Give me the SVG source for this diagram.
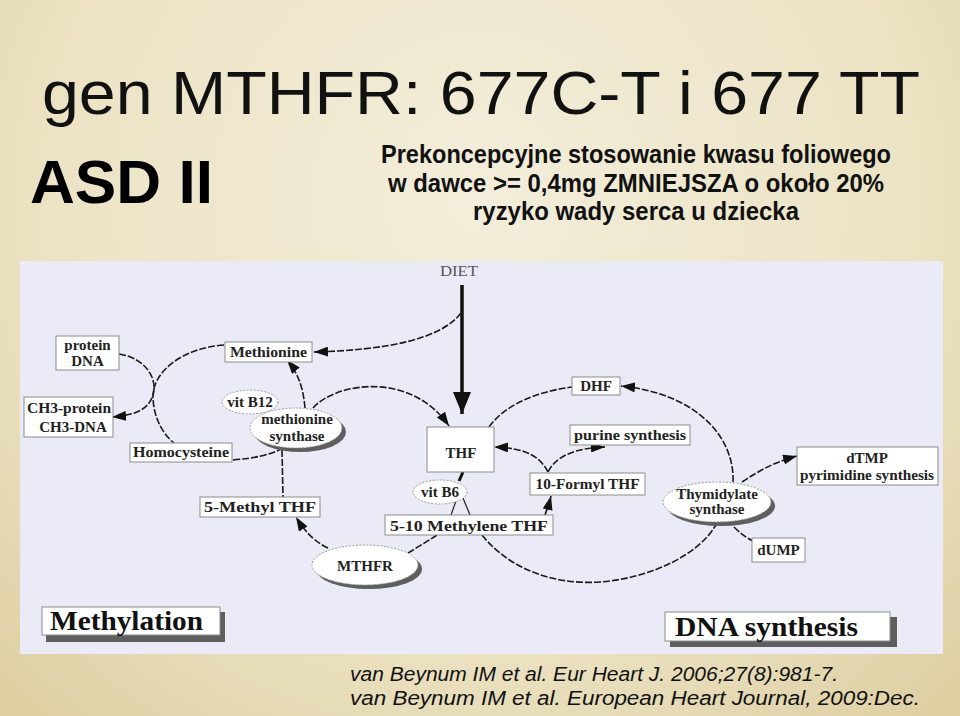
<svg xmlns="http://www.w3.org/2000/svg" width="960" height="716" viewBox="0 0 960 716">
<defs>
<radialGradient id="bg" cx="480" cy="200" r="720" gradientUnits="userSpaceOnUse">
<stop offset="0" stop-color="#f3eedb"/>
<stop offset="0.6" stop-color="#ece3c4"/>
<stop offset="1" stop-color="#dccd9e"/>
</radialGradient>
<marker id="ah" viewBox="0 0 14 10" refX="14" refY="5" markerWidth="14" markerHeight="10" markerUnits="userSpaceOnUse" orient="auto">
<path d="M0,0 L14,5 L0,10 Z" fill="#111"/>
</marker>
<marker id="ahBig" viewBox="0 0 22 18" refX="22" refY="9" markerWidth="22" markerHeight="18" markerUnits="userSpaceOnUse" orient="auto">
<path d="M0,0 L22,9 L0,18 Z" fill="#111"/>
</marker>
</defs>
<style>
.box{fill:#fff;stroke:#8c8c8c;stroke-width:1}
.ell{fill:#fff;stroke:#9a9a9a;stroke-width:1;stroke-dasharray:2 1.5}
.sh{fill:#5e5e5e}
.lbl{font-family:"Liberation Serif",serif;font-weight:bold;fill:#222;text-anchor:middle;font-size:15px}
.ln{fill:none;stroke:#1a1a1a;stroke-width:1.6;stroke-dasharray:7 2}
.big{font-family:"Liberation Serif",serif;font-weight:bold;fill:#111;font-size:27px}
.sub{font-family:"Liberation Sans",Arial,sans-serif;font-weight:bold;fill:#111;text-anchor:middle;font-size:25px}
.ref{font-family:"Liberation Sans",Arial,sans-serif;font-style:italic;fill:#111;font-size:20px}
</style>

<rect x="0" y="0" width="960" height="716" fill="url(#bg)"/>

<g id="title">
<text x="42" y="114" font-family="Liberation Sans, Arial, sans-serif" font-size="61" fill="#111" textLength="878" lengthAdjust="spacingAndGlyphs">gen MTHFR: 677C-T i 677 TT</text>
</g>
<g id="asd">
<text x="30" y="203" font-family="Liberation Sans, Arial, sans-serif" font-weight="bold" font-size="62" fill="#000" textLength="183" lengthAdjust="spacingAndGlyphs">ASD II</text>
</g>
<g id="subtitle">
<text class="sub" x="636" y="163" textLength="510" lengthAdjust="spacingAndGlyphs">Prekoncepcyjne stosowanie kwasu foliowego</text>
<text class="sub" x="636" y="192" textLength="496" lengthAdjust="spacingAndGlyphs">w dawce &gt;= 0,4mg ZMNIEJSZA o około 20%</text>
<text class="sub" x="636" y="220" textLength="326" lengthAdjust="spacingAndGlyphs">ryzyko wady serca u dziecka</text>
</g>

<rect id="panel" x="20" y="261" width="923" height="393" fill="#ebebf7"/>

<g id="connectors">
<path d="M462,285 L462,414" fill="none" stroke="#111" stroke-width="3.5" marker-end="url(#ahBig)"/>
<path class="ln" d="M461,313 C440,340 385,350 314,352" marker-end="url(#ah)"/>
<path class="ln" d="M224,345 C182,348 152,372 153,398 C154,420 164,435 174,443"/>
<path class="ln" d="M233,460 C255,458 270,455 283,448"/>
<path class="ln" d="M305,408 C303,385 297,372 287,360" marker-end="url(#ah)"/>
<path class="ln" d="M313,408 C335,383 410,370 449,426" marker-end="url(#ah)"/>
<path class="ln" d="M119,354 C145,358 158,378 153,395 C149,408 138,415 112,417" marker-end="url(#ah)"/>
<path class="ln" d="M282,450 L283,497"/>
<path class="ln" d="M328,548 C315,542 305,532 296,517" marker-end="url(#ah)"/>
<path class="ln" d="M437,535 C425,543 416,548 408,553"/>
<path d="M463,472 L459,481" fill="none" stroke="#111" stroke-width="3"/>
<path d="M457,498 L451,515 M463,498 L470,515" fill="none" stroke="#222" stroke-width="1.2"/>
<path class="ln" d="M545,515 C547,509 549,504 551,496" marker-end="url(#ah)"/>
<path class="ln" d="M548,472 C540,456 525,448 494,447" marker-end="url(#ah)"/>
<path class="ln" d="M548,472 C556,456 575,448 605,447" marker-end="url(#ah)"/>
<path class="ln" d="M489,427 C505,405 535,392 572,387"/>
<path class="ln" d="M733,482 C735,440 700,394 621,386" marker-end="url(#ah)"/>
<path class="ln" d="M482,535 C510,570 555,585 600,582 C650,578 700,555 717,523"/>
<path class="ln" d="M742,482 C760,470 775,462 797,456" marker-end="url(#ah)"/>
<path class="ln" d="M734,527 C740,533 745,537 753,541"/>
</g>

<g id="n-protein">
<rect class="box" x="56" y="336" width="63" height="34"/>
<text class="lbl" x="87.5" y="350">protein</text>
<text class="lbl" x="87.5" y="366">DNA</text>
</g>
<g id="n-methionine">
<rect class="box" x="225" y="342" width="87" height="20"/>
<text class="lbl" x="268.5" y="357" textLength="77" lengthAdjust="spacingAndGlyphs">Methionine</text>
</g>
<g id="n-ch3">
<rect class="box" x="24" y="397" width="89" height="40"/>
<text class="lbl" x="69" y="413" textLength="84" lengthAdjust="spacingAndGlyphs">CH3-protein</text>
<text class="lbl" x="73" y="432">CH3-DNA</text>
</g>
<g id="n-vitb12">
<ellipse class="ell" cx="250" cy="402" rx="28" ry="12"/>
<text class="lbl" x="250" y="407" font-size="14">vit B12</text>
</g>
<g id="n-msynthase">
<ellipse class="sh" cx="300" cy="432" rx="46" ry="20"/>
<ellipse class="ell" cx="296" cy="428" rx="46" ry="20"/>
<text class="lbl" x="297" y="424" font-size="14">methionine</text>
<text class="lbl" x="297" y="441" font-size="14">synthase</text>
</g>
<g id="n-homocysteine">
<rect class="box" x="130" y="443" width="102" height="19"/>
<text class="lbl" x="181" y="457" textLength="96" lengthAdjust="spacingAndGlyphs">Homocysteine</text>
</g>
<g id="n-5methyl">
<rect class="box" x="200" y="497" width="120" height="20"/>
<text class="lbl" x="260" y="512" textLength="112" lengthAdjust="spacingAndGlyphs">5-Methyl THF</text>
</g>
<g id="n-mthfr">
<ellipse class="sh" cx="369" cy="569" rx="53" ry="20"/>
<ellipse class="ell" cx="365" cy="565" rx="53" ry="20"/>
<text class="lbl" x="365" y="571" font-size="16">MTHFR</text>
</g>
<g id="n-methylation">
<rect class="sh" x="46" y="612" width="179" height="30"/>
<rect class="box" x="42" y="607" width="178" height="28"/>
<text class="big" x="50" y="630" textLength="153" lengthAdjust="spacingAndGlyphs">Methylation</text>
</g>
<g id="n-diet">
<text x="459" y="276" font-family="Liberation Serif, serif" font-size="14" fill="#555" text-anchor="middle" textLength="38" lengthAdjust="spacingAndGlyphs">DIET</text>
</g>
<g id="n-thf">
<rect class="box" x="427" y="427" width="67" height="45"/>
<text class="lbl" x="461" y="458" font-size="23">THF</text>
</g>
<g id="n-dhf">
<rect class="box" x="572" y="377" width="48" height="18"/>
<text class="lbl" x="596" y="391">DHF</text>
</g>
<g id="n-purine">
<rect class="box" x="570" y="425" width="120" height="20"/>
<text class="lbl" x="630" y="440" textLength="112" lengthAdjust="spacingAndGlyphs">purine synthesis</text>
</g>
<g id="n-10formyl">
<rect class="box" x="530" y="473" width="115" height="22"/>
<text class="lbl" x="587.5" y="489" textLength="104" lengthAdjust="spacingAndGlyphs">10-Formyl THF</text>
</g>
<g id="n-vitb6">
<ellipse class="ell" cx="440" cy="492" rx="27" ry="12"/>
<text class="lbl" x="440" y="497" font-size="14">vit B6</text>
</g>
<g id="n-510methylene">
<rect class="box" x="385" y="515" width="168" height="20"/>
<text class="lbl" x="469" y="531" font-size="17" textLength="158" lengthAdjust="spacingAndGlyphs">5-10 Methylene THF</text>
</g>
<g id="n-thymidylate">
<ellipse class="sh" cx="721" cy="506" rx="54" ry="20"/>
<ellipse class="ell" cx="717" cy="502" rx="54" ry="20"/>
<text class="lbl" x="717" y="499" font-size="13">Thymidylate</text>
<text class="lbl" x="717" y="514" font-size="13">synthase</text>
</g>
<g id="n-dtmp">
<rect class="box" x="797" y="447" width="141" height="38"/>
<text class="lbl" x="867" y="463" font-size="14">dTMP</text>
<text class="lbl" x="867" y="480" font-size="14" textLength="134" lengthAdjust="spacingAndGlyphs">pyrimidine synthesis</text>
</g>
<g id="n-dump">
<rect class="box" x="752" y="538" width="53" height="24"/>
<text class="lbl" x="778.5" y="555" font-size="14">dUMP</text>
</g>
<g id="n-dnasynth">
<rect class="sh" x="670" y="617" width="227" height="30"/>
<rect class="box" x="665" y="612" width="225" height="29"/>
<text class="big" x="675" y="636" textLength="183" lengthAdjust="spacingAndGlyphs">DNA synthesis</text>
</g>

<g id="references">
<text class="ref" x="350" y="681" textLength="488" lengthAdjust="spacingAndGlyphs">van Beynum IM et al. Eur Heart J. 2006;27(8):981-7.</text>
<text class="ref" x="350" y="705" textLength="570" lengthAdjust="spacingAndGlyphs">van Beynum IM et al. European Heart Journal, 2009:Dec.</text>
</g>
</svg>
